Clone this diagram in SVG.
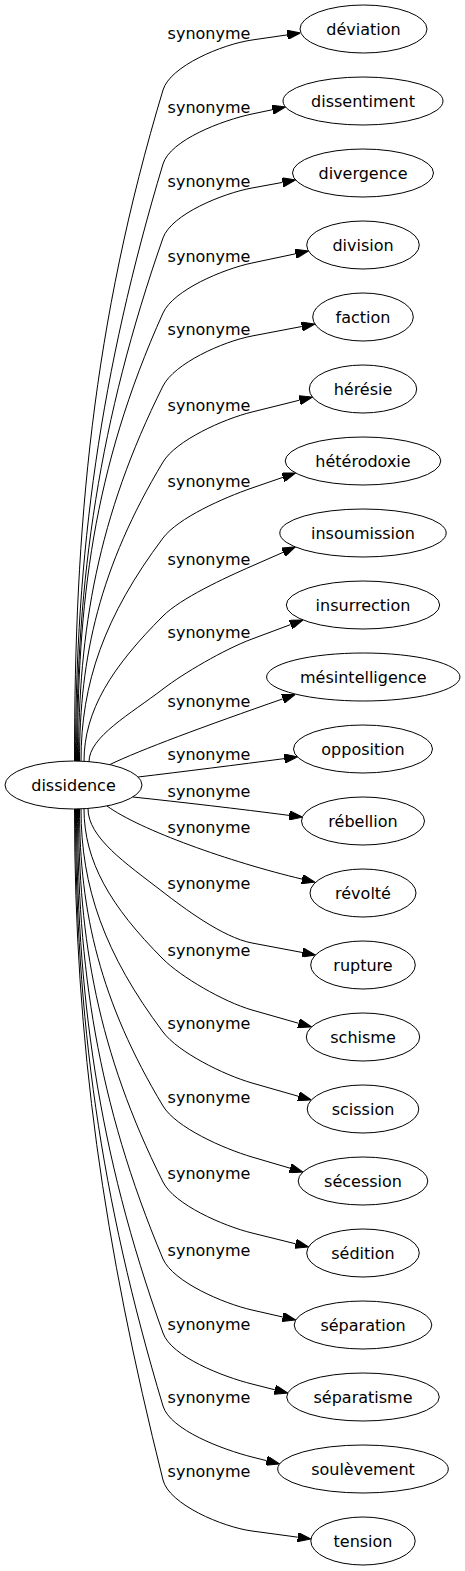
<svg xmlns="http://www.w3.org/2000/svg" width="465" height="1571" viewBox="0 0 465 1571">
<style>
.node ellipse{fill:none;stroke:#000;stroke-width:1}
text{font-family:"DejaVu Sans","Liberation Sans",sans-serif;font-size:16px;text-anchor:middle;fill:#000}
.edge path{fill:none;stroke:#000;stroke-width:1;marker-end:url(#ah)}
</style>
<defs>
<marker id="ah" markerUnits="userSpaceOnUse" viewBox="0 0 13.3 9.34" refX="0" refY="4.67" markerWidth="13.3" markerHeight="9.34" orient="auto">
<path d="M0,0 L13.3,4.67 L0,9.34 z" fill="#000" stroke="#000" stroke-width="1"/>
</marker>
</defs>
<rect width="465" height="1571" fill="#fff"/>
<g id="edges">
<g class="edge" id="e0"><path d="M74.5,761 C74.5,526 92.5,325 163,90 C170.2,66 222.3,44.3 252,40 L287.2,34.9"/><text x="209" y="39">synonyme</text></g>
<g class="edge" id="e1"><path d="M75.5,761 C75.5,552 100.3,373 163,164 C170.2,140 222.6,120.2 252,114 L272.5,109.7"/><text x="209" y="113">synonyme</text></g>
<g class="edge" id="e2"><path d="M76.5,761 C76.5,578 99,421 163,238 C171.3,214.4 222.5,193.4 252,188 L282.5,182.4"/><text x="209" y="187">synonyme</text></g>
<g class="edge" id="e3"><path d="M77.5,761 C77.5,604 92.4,470 163,313 C173.3,290.2 222.7,269.2 252,263 L295.5,253.8"/><text x="209" y="262">synonyme</text></g>
<g class="edge" id="e4"><path d="M78.5,761 C78.5,630 97.5,517 163,386 C174.2,363.6 222.5,341.6 252,336 L301.8,326.5"/><text x="209" y="335">synonyme</text></g>
<g class="edge" id="e5"><path d="M79.5,761 C79.5,656 100,567 163,462 C175.9,440.6 222.9,419.2 252,412 L299.5,400.2"/><text x="209" y="411">synonyme</text></g>
<g class="edge" id="e6"><path d="M81,761 C81,683 104.5,616 163,538 C178,518 223.6,497.8 252,488 L283,477.3"/><text x="209" y="487">synonyme</text></g>
<g class="edge" id="e7"><path d="M84,761.4 C84,710.4 112,667 163,616 C180.7,598.3 224.5,578 252,566 L283.2,552.3"/><text x="209" y="565">synonyme</text></g>
<g class="edge" id="e8"><path d="M89,761.8 C89,736.8 130.5,714 163,689 C182.8,673.7 223.9,649.5 252,639 L290.6,624.6"/><text x="209" y="638">synonyme</text></g>
<g class="edge" id="e9"><path d="M110,764.5 C140,750 205,726 282.7,698.9"/><text x="209" y="707">synonyme</text></g>
<g class="edge" id="e10"><path d="M138.1,777 C180,772 240,764.5 284.3,758.6"/><text x="209" y="760">synonyme</text></g>
<g class="edge" id="e11"><path d="M132.8,797 C180,802 240,809 289.2,815.4"/><text x="209" y="797">synonyme</text></g>
<g class="edge" id="e12"><path d="M107,806 C140,830 230,862 302.1,879.1"/><text x="209" y="833">synonyme</text></g>
<g class="edge" id="e13"><path d="M88,808.5 C88,837.5 125.3,863 163,892 C182.8,907.3 222.5,937.4 252,943 L302.4,952.5"/><text x="209" y="889">synonyme</text></g>
<g class="edge" id="e14"><path d="M84,808.7 C84,861.3 110.4,906.4 163,959 C180.7,976.7 223.2,1001.7 252,1010 L298.7,1023.3"/><text x="209" y="956">synonyme</text></g>
<g class="edge" id="e15"><path d="M81,809 C81,887 104.5,954 163,1032 C178,1052 223.2,1074.7 252,1083 L298.5,1096.3"/><text x="209" y="1029">synonyme</text></g>
<g class="edge" id="e16"><path d="M79.5,809 C79.5,913 100.6,1002 163,1106 C175.9,1127.4 223.2,1148.5 252,1157 L290.1,1168.2"/><text x="209" y="1103">synonyme</text></g>
<g class="edge" id="e17"><path d="M78.5,809 C78.5,939.5 97.7,1051.5 163,1182 C174.2,1204.4 222.9,1225.8 252,1233 L295.6,1243.8"/><text x="209" y="1179">synonyme</text></g>
<g class="edge" id="e18"><path d="M77.5,809 C77.5,966.5 96.8,1101.5 163,1259 C173.3,1281.8 222.7,1303.3 252,1310 L282.7,1317"/><text x="209" y="1256">synonyme</text></g>
<g class="edge" id="e19"><path d="M76.5,809 C76.5,992.4 97,1149.6 163,1333 C171.3,1356.6 222.9,1376.7 252,1384 L274.9,1389.8"/><text x="209" y="1330">synonyme</text></g>
<g class="edge" id="e20"><path d="M75.5,809 C75.5,1018 100.3,1197 163,1406 C170.2,1430 222.9,1449.6 252,1457 L266.7,1460.7"/><text x="209" y="1403">synonyme</text></g>
<g class="edge" id="e21"><path d="M74.5,809 C74.5,1044 104.2,1245 163,1480 C169.1,1504.3 222.3,1527 252,1531 L297.8,1537.2"/><text x="209" y="1477">synonyme</text></g>
</g>
<g id="n_dissidence" class="node"><ellipse cx="73.5" cy="785" rx="68.5" ry="24"/><text x="73.5" y="791">dissidence</text></g>
<g id="n_deviation" class="node"><ellipse cx="363.5" cy="29" rx="63.5" ry="24"/><text x="363.5" y="35">déviation</text></g>
<g id="n_dissentiment" class="node"><ellipse cx="363" cy="101" rx="80" ry="24"/><text x="363" y="107">dissentiment</text></g>
<g id="n_divergence" class="node"><ellipse cx="363" cy="173" rx="70.5" ry="24"/><text x="363" y="179">divergence</text></g>
<g id="n_division" class="node"><ellipse cx="363" cy="245" rx="56.3" ry="24"/><text x="363" y="251">division</text></g>
<g id="n_faction" class="node"><ellipse cx="363" cy="317" rx="50.3" ry="24"/><text x="363" y="323">faction</text></g>
<g id="n_heresie" class="node"><ellipse cx="363" cy="389" rx="53.7" ry="24"/><text x="363" y="395">hérésie</text></g>
<g id="n_heterodoxie" class="node"><ellipse cx="363" cy="461" rx="77.8" ry="24"/><text x="363" y="467">hétérodoxie</text></g>
<g id="n_insoumission" class="node"><ellipse cx="363" cy="533" rx="83.2" ry="24"/><text x="363" y="539">insoumission</text></g>
<g id="n_insurrection" class="node"><ellipse cx="363" cy="605" rx="76.7" ry="24"/><text x="363" y="611">insurrection</text></g>
<g id="n_mesintelligence" class="node"><ellipse cx="363.3" cy="677" rx="96.7" ry="24"/><text x="363.3" y="683">mésintelligence</text></g>
<g id="n_opposition" class="node"><ellipse cx="363" cy="749" rx="69.5" ry="24"/><text x="363" y="755">opposition</text></g>
<g id="n_rebellion" class="node"><ellipse cx="363" cy="821" rx="61.5" ry="24"/><text x="363" y="827">rébellion</text></g>
<g id="n_revolte" class="node"><ellipse cx="363" cy="893" rx="53" ry="24"/><text x="363" y="899">révolté</text></g>
<g id="n_rupture" class="node"><ellipse cx="363" cy="965" rx="52.3" ry="24"/><text x="363" y="971">rupture</text></g>
<g id="n_schisme" class="node"><ellipse cx="363" cy="1037" rx="56.7" ry="24"/><text x="363" y="1043">schisme</text></g>
<g id="n_scission" class="node"><ellipse cx="363" cy="1109" rx="55.8" ry="24"/><text x="363" y="1115">scission</text></g>
<g id="n_secession" class="node"><ellipse cx="363" cy="1181" rx="64.8" ry="24"/><text x="363" y="1187">sécession</text></g>
<g id="n_sedition" class="node"><ellipse cx="363" cy="1253" rx="56.3" ry="24"/><text x="363" y="1259">sédition</text></g>
<g id="n_separation" class="node"><ellipse cx="363" cy="1325" rx="68.8" ry="24"/><text x="363" y="1331">séparation</text></g>
<g id="n_separatisme" class="node"><ellipse cx="363" cy="1397" rx="76.3" ry="24"/><text x="363" y="1403">séparatisme</text></g>
<g id="n_soulevement" class="node"><ellipse cx="363" cy="1469" rx="85.3" ry="24"/><text x="363" y="1475">soulèvement</text></g>
<g id="n_tension" class="node"><ellipse cx="363" cy="1541" rx="52.2" ry="24"/><text x="363" y="1547">tension</text></g>
</svg>
